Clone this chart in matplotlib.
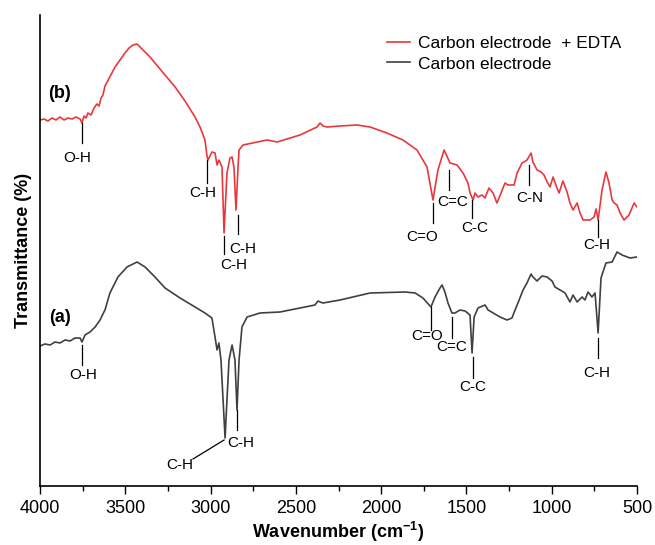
import matplotlib
matplotlib.use("Agg")
import matplotlib.pyplot as plt

plt.rcParams['font.family'] = ['Liberation Sans', 'DejaVu Sans']
plt.rcParams['mathtext.fontset'] = 'custom'
plt.rcParams['mathtext.rm'] = 'Liberation Sans:bold'
plt.rcParams['mathtext.bf'] = 'Liberation Sans:bold'

# spectrum (b): carbon electrode + EDTA  (wavenumber, transmittance a.u.)
wn_b = [4000, 3977, 3953, 3930, 3906, 3883, 3859, 3836, 3812, 3789, 3765, 3754,
        3742, 3730, 3719, 3701, 3683, 3666, 3654, 3642, 3631, 3619, 3560, 3531,
        3502, 3478, 3455, 3431, 3408, 3384, 3355, 3326, 3267, 3208, 3150, 3091,
        3062, 3033, 3021, 3015, 2992, 2974, 2962, 2951, 2933, 2921, 2904, 2886,
        2874, 2863, 2851, 2839, 2833, 2810, 2669, 2610, 2476, 2376, 2358, 2341,
        2317, 2241, 2141, 2065, 1966, 1872, 1790, 1731, 1696, 1667, 1631, 1596,
        1555, 1520, 1491, 1479, 1461, 1450, 1432, 1409, 1391, 1368, 1344, 1321,
        1297, 1274, 1256, 1221, 1203, 1174, 1162, 1145, 1121, 1110, 1086, 1063,
        1045, 1027, 1010, 992, 969, 957, 934, 910, 893, 875, 851, 834, 816, 775,
        752, 740, 728, 705, 682, 664, 646, 634, 617, 599, 576, 547, 517, 500]
t_b = [366, 367, 365, 368, 366, 369, 366, 368, 367, 369, 367, 363,
       370, 368, 373, 371, 378, 382, 380, 388, 391, 400, 419, 426,
       433, 438, 441, 442, 438, 434, 429, 423, 411, 399, 385, 369,
       359, 346, 330, 326, 334, 333, 321, 326, 319, 253, 313, 328,
       329, 319, 276, 319, 336, 341, 346, 344, 351, 359, 363, 360,
       359, 360, 361, 359, 353, 346, 336, 319, 286, 316, 336, 323,
       321, 313, 303, 293, 286, 293, 289, 291, 288, 298, 293, 283,
       293, 303, 301, 301, 313, 323, 324, 326, 333, 324, 316, 314,
       311, 304, 299, 309, 298, 293, 305, 294, 283, 276, 283, 273, 266, 266,
       269, 277, 266, 296, 314, 303, 286, 283, 281, 273, 266, 271, 283, 279]

# spectrum (a): carbon electrode
wn_a = [4000, 3971, 3941, 3912, 3883, 3853, 3824, 3795, 3765, 3754, 3736, 3707,
        3677, 3648, 3631, 3619, 3590, 3543, 3490, 3431, 3384, 3326, 3267, 3179,
        3091, 3033, 2992, 2974, 2962, 2951, 2939, 2915, 2892, 2874, 2857, 2845,
        2833, 2816, 2786, 2710, 2593, 2476, 2388, 2370, 2358, 2341, 2241, 2065,
        1860, 1801, 1755, 1708, 1684, 1655, 1643, 1626, 1608, 1585, 1567, 1538,
        1508, 1479, 1467, 1455, 1432, 1391, 1373, 1303, 1262, 1233, 1215, 1198,
        1168, 1145, 1121, 1110, 1086, 1057, 1027, 998, 981, 951, 922, 893, 875,
        851, 822, 805, 787, 764, 746, 728, 711, 682, 646, 617, 588, 541, 500]
t_a = [140, 142, 141, 144, 143, 146, 145, 148, 148, 144, 151, 154,
       159, 166, 172, 176, 193, 209, 219, 224, 219, 209, 198, 188,
       179, 173, 168, 149, 136, 143, 126, 48, 126, 141, 126, 76,
       126, 159, 169, 173, 174, 178, 181, 185, 184, 183, 186, 193,
       194, 193, 188, 179, 189, 198, 201, 194, 183, 173, 173, 176,
       175, 171, 133, 169, 178, 181, 176, 169, 166, 168, 176, 183,
       196, 203, 212, 209, 205, 210, 209, 205, 199, 196, 193, 184, 191,
       184, 189, 186, 194, 189, 193, 153, 208, 223, 224, 234, 231, 228, 229]

# peak assignments: label, marker wavenumber, marker top, marker bottom, text wn, text y
peaks_b = [("O-H", 3754, 363, 343, 3783, 328),
           ("C-H", 3021, 326, 303, 3044, 293),
           ("C-H", 2921, 250, 232, 2863, 221),
           ("C-H", 2839, 271, 252, 2810, 237),
           ("C=O", 1696, 283, 263, 1760, 249),
           ("C=C", 1602, 316, 296, 1579, 284),
           ("C-C", 1467, 286, 268, 1450, 258),
           ("C-N", 1133, 321, 301, 1127, 288),
           ("C-H", 728, 266, 249, 734, 241)]
peaks_a = [("O-H", 3754, 141, 121, 3748, 111),
           ("C-H", 2845, 76, 56, 2821, 43),
           ("C=O", 1708, 179, 156, 1731, 150),
           ("C=C", 1585, 169, 148, 1585, 139),
           ("C-C", 1461, 129, 108, 1461, 99),
           ("C-H", 728, 148, 128, 734, 113)]

fig = plt.figure(figsize=(6.55, 5.45), dpi=100)
ax = fig.add_axes([40 / 655, 1 - 486 / 545, 597 / 655, 471 / 545])

l_b, = ax.plot(wn_b, t_b, color='#e8383d', lw=1.2)
l_a, = ax.plot(wn_a, t_a, color='#404040', lw=1.2)

for lab, x, y0, y1, tx, ty in peaks_b + peaks_a:
    ax.plot([x, x], [y0, y1], color='black', lw=0.9)
    ax.text(tx, ty, lab, ha='center', va='center', fontsize=11)

# slanted leader for the 2920 band of (a)
ax.plot([2921, 3103], [46, 27], color='black', lw=0.9)
ax.text(3179, 21, "C-H", ha='center', va='center', fontsize=11)

ax.text(3883, 393, "(b)", ha='center', va='center', fontsize=13, fontweight='bold')
ax.text(3883, 169, "(a)", ha='center', va='center', fontsize=13, fontweight='bold')

ax.set_xlim(4000, 500)
ax.set_ylim(0, 471)
ax.set_xticks([4000, 3500, 3000, 2500, 2000, 1500, 1000, 500])
ax.set_xticks(range(3750, 500, -500), minor=True)
ax.tick_params(axis='x', which='major', length=6, width=1, labelsize=13, pad=4)
ax.tick_params(axis='x', which='minor', length=3.5, width=1)
ax.set_yticks([])
ax.spines['top'].set_visible(False)
ax.spines['right'].set_visible(False)
ax.spines['left'].set_linewidth(1.2)
ax.spines['bottom'].set_linewidth(1.2)

ax.set_xlabel(r'Wavenumber (cm$^{-1}$)', fontsize=13, fontweight='bold', labelpad=2)
ax.set_ylabel('Transmittance (%)', fontsize=13, fontweight='bold', labelpad=6)

fig.legend([l_b, l_a], ["Carbon electrode  + EDTA", "Carbon electrode"],
           loc='upper left', bbox_to_anchor=(387 / 655, 1 - 36 / 545),
           frameon=False, fontsize=12.5, handlelength=1.35, handletextpad=0.45,
           labelspacing=0.3, borderpad=0, borderaxespad=0)

fig.savefig("out.png", dpi=100)
